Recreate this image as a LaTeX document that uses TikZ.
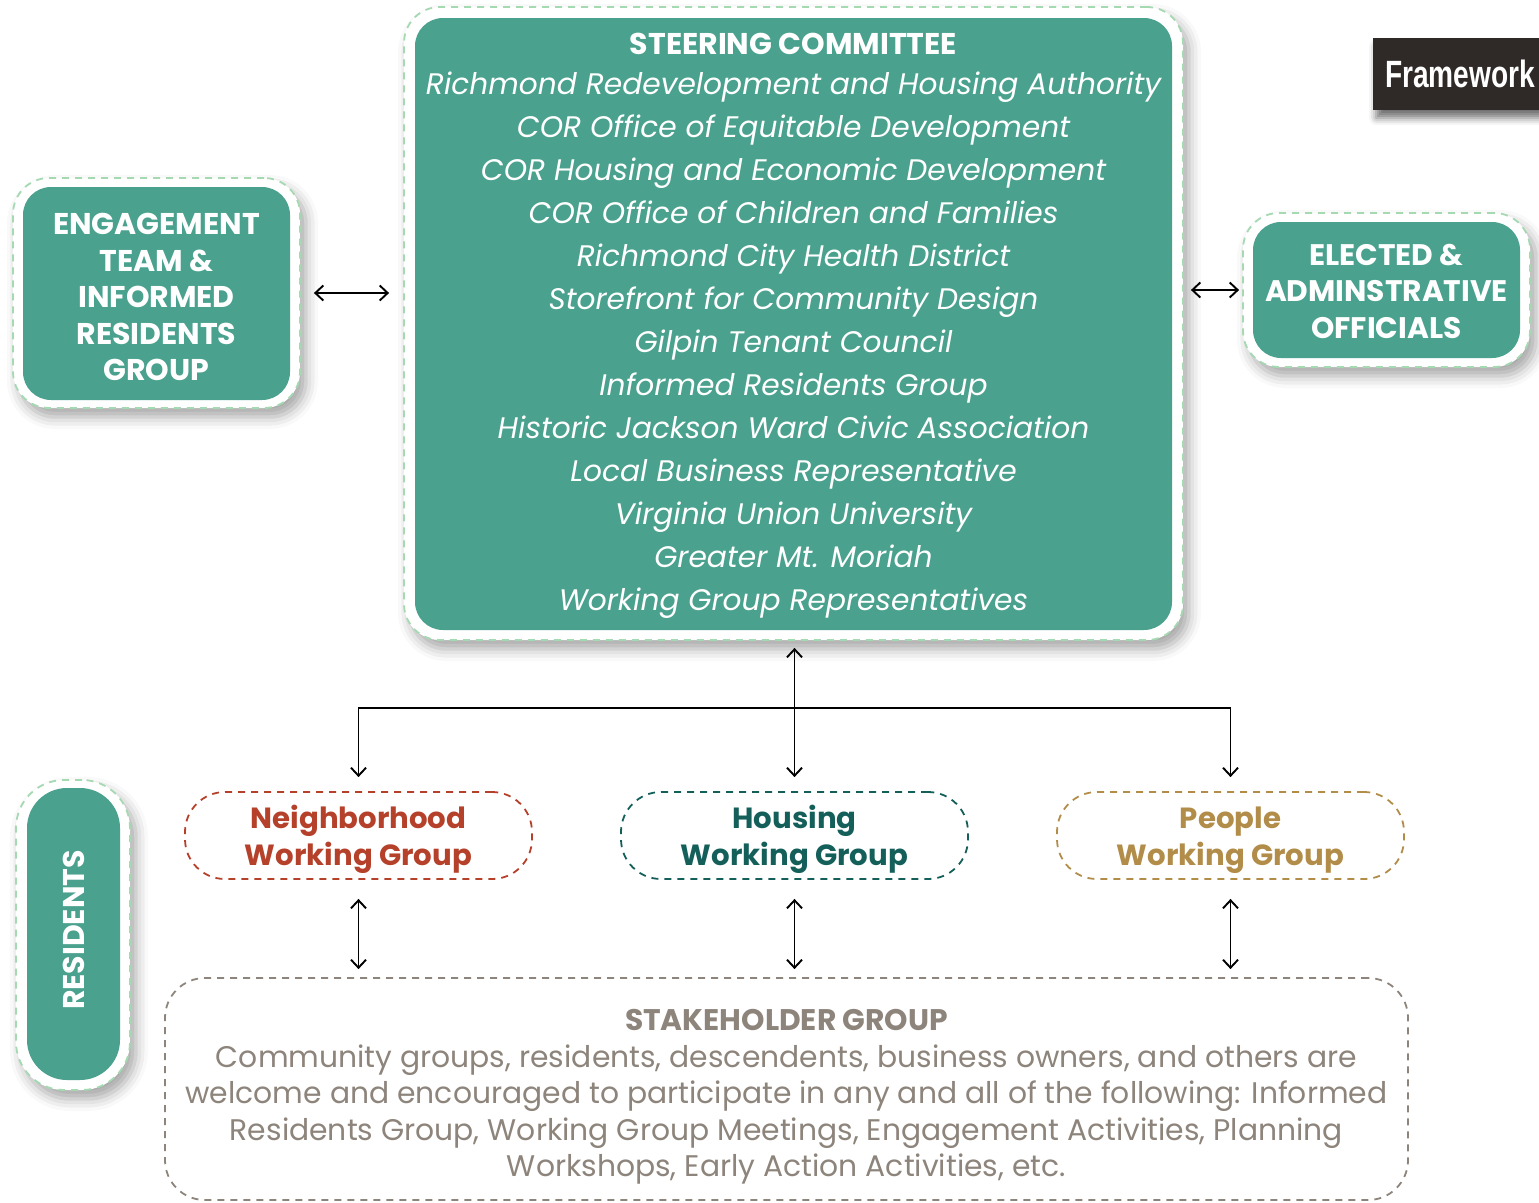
\documentclass[tikz,border=0pt]{standalone}
\usepackage{fontspec}
\setmainfont{Poppins}
\newfontfamily\tabfont{Liberation Sans}
\usetikzlibrary{arrows.meta,shadows.blur}

\definecolor{boxteal}{HTML}{49A18E}
\definecolor{ringgreen}{HTML}{A5D9B2}
\definecolor{nbhred}{HTML}{B5412B}
\definecolor{hsgteal}{HTML}{145F5A}
\definecolor{pplgold}{HTML}{B28D4A}
\definecolor{stkgray}{HTML}{8D847B}
\definecolor{tabdark}{HTML}{2F2A27}

\tikzset{
  tealbox/.style={fill=boxteal, rounded corners=28pt, text=white, align=center, inner sep=0pt},
  ring/.style={draw=ringgreen, fill=white, dash pattern=on 7pt off 6pt, line width=1.8pt,
    rounded corners=36pt, inner sep=0pt,
    blur shadow={shadow xshift=6pt, shadow yshift=-9pt, shadow blur radius=12pt, shadow opacity=35}},
  wgbox/.style={dash pattern=on 7pt off 6pt, line width=1.8pt, rounded corners=40pt,
    minimum width=347pt, minimum height=87pt, align=center, inner sep=0pt,
    font=\fontsize{29.2}{37}\selectfont\bfseries},
  link/.style={{Straight Barb[length=8pt,width=15pt]}-{Straight Barb[length=8pt,width=15pt]}, line width=1.9pt}
}

\begin{document}
\begin{tikzpicture}[x=1pt, y=-1pt]

  \useasboundingbox (0,0) rectangle (1539,1202);
  \clip (0,0) rectangle (1539,1202);

  % dashed rings behind the teal boxes
  \node[ring, minimum width=779pt, minimum height=633pt] (steerring) at (793.5,323.5) {};
  \node[ring, minimum width=287pt, minimum height=230pt] (engagering) at (156.5,293) {};
  \node[ring, minimum width=287pt, minimum height=154pt] (electring) at (1386.5,290) {};
  \node[ring, rounded corners=48pt, minimum width=114pt, minimum height=310pt] (residring) at (73,935) {};

  % teal boxes
  \node[tealbox, minimum width=757pt, minimum height=612pt,
        font=\fontsize{29.7}{43}\selectfont\itshape] (steer) at (793.5,324)
    {{\upshape\bfseries\fontsize{30}{43}\selectfont\rule{0pt}{25pt}STEERING COMMITTEE}\\[-3pt]
     Richmond Redevelopment and Housing Authority\\
     COR Office of Equitable Development\\
     COR Housing and Economic Development\\
     COR Office of Children and Families\\
     Richmond City Health District\\
     Storefront for Community Design\\
     Gilpin Tenant Council\\
     Informed Residents Group\\
     Historic Jackson Ward Civic Association\\
     Local Business Representative\\
     Virginia Union University\\
     Greater Mt. Moriah\\
     Working Group Representatives};

  \node[tealbox, minimum width=267pt, minimum height=213pt,
        font=\fontsize{30}{36.5}\selectfont\bfseries] (engage) at (156.5,293.5)
    {\rule{0pt}{29pt}ENGAGEMENT\\TEAM \&\\INFORMED\\RESIDENTS\\GROUP};

  \node[tealbox, minimum width=267pt, minimum height=136pt,
        font=\fontsize{29.7}{36.5}\selectfont\bfseries] (elect) at (1386.5,290)
    {\rule{0pt}{24pt}ELECTED \&\\ADMINSTRATIVE\\OFFICIALS};

  \node[tealbox, rounded corners=40pt, minimum width=93pt, minimum height=292pt] (resid) at (73.5,934) {};
  \node[rotate=90, text=white, font=\fontsize{30}{30}\selectfont\bfseries] (residtxt) at (73.5,930) {RESIDENTS};

  % tab
  \node[fill=tabdark, anchor=west, minimum height=72pt, inner xsep=12pt, text=white,
        blur shadow={shadow xshift=3pt, shadow yshift=-8pt, shadow blur radius=7pt, shadow opacity=55},
        font=\tabfont\bfseries\fontsize{38}{38}\selectfont] (tab) at (1373,74)
    {\scalebox{0.74}[1]{Framework}\hspace{30pt}};

  % working groups
  \node[wgbox, draw=nbhred, text=nbhred] (nbh) at (358.5,835.5) {\rule{0pt}{32pt}Neighborhood\\Working Group};
  \node[wgbox, draw=hsgteal, text=hsgteal] (hsg) at (794.5,835.5) {\rule{0pt}{32pt}Housing\\Working Group};
  \node[wgbox, draw=pplgold, text=pplgold] (ppl) at (1230.5,835.5) {\rule{0pt}{32pt}People\\Working Group};

  \node[draw=stkgray, dash pattern=on 7pt off 6pt, line width=1.8pt, rounded corners=40pt,
        minimum width=1243pt, minimum height=222pt, text=stkgray, align=center, inner sep=0pt,
        font=\fontsize{29.8}{36.6}\selectfont] (stake) at (786.5,1089)
    {{\bfseries\fontsize{29.8}{36.6}\selectfont\rule{0pt}{37pt}STAKEHOLDER GROUP}\\
     Community groups, residents, descendents, business owners, and others are\\
     welcome and encouraged to participate in any and all of the following: Informed\\
     Residents Group, Working Group Meetings, Engagement Activities, Planning\\
     Workshops, Early Action Activities, etc.};

  % connectors
  \coordinate (hub) at (794,708);
  \draw[link, shorten <=13pt, shorten >=14pt] (engagering.east) -- (steerring.west |- engagering.east);
  \draw[link, shorten <=7pt, shorten >=3pt] (steerring.east |- electring.west) -- (electring.west);
  \draw[link, shorten <=7pt, shorten >=14pt] (steerring.south -| hsg.north) -- (hsg.north);
  \draw[link, shorten <=14pt, shorten >=14pt] (nbh.north) |- (hub) -| (ppl.north);
  \foreach \wg in {nbh,hsg,ppl}
    \draw[link, shorten <=19pt, shorten >=8pt] (\wg.south) -- (\wg.south |- stake.north);

\end{tikzpicture}
\end{document}
